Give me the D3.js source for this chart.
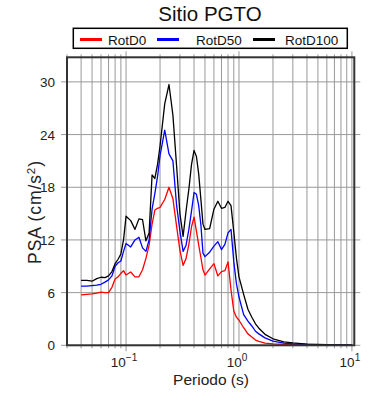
<!DOCTYPE html>
<html>
<head>
<meta charset="utf-8">
<script src="https://cdn.jsdelivr.net/npm/d3@7"></script>
<style>
  body { margin: 0; background: #fff; }
  svg { font-family: "Liberation Sans", Arial, Helvetica, sans-serif; }
</style>
</head>
<body>
<script>
// periods (s) and spectral accelerations (cm/s2)
var periods = [0.04, 0.045, 0.05, 0.055, 0.06, 0.065, 0.07, 0.075, 0.08, 0.085, 0.09, 0.095,
  0.1, 0.11, 0.12, 0.13, 0.14, 0.15, 0.16, 0.17, 0.18, 0.19, 0.2, 0.22, 0.24, 0.26, 0.28, 0.3,
  0.32, 0.34, 0.36, 0.38, 0.4, 0.42, 0.44, 0.46, 0.48, 0.5, 0.55, 0.6, 0.65, 0.7, 0.75, 0.8,
  0.85, 0.9, 0.95, 1.0, 1.1, 1.2, 1.3, 1.4, 1.5, 1.7, 2.0, 2.5, 3.0, 4.0, 5.0, 6.0, 7.5, 10];

var rotD0 = [5.75, 5.8, 5.85, 5.95, 6.05, 6.0, 6.0, 6.6, 7.55, 7.8, 8.2, 8.5,
  8.0, 8.35, 7.8, 7.8, 8.6, 9.9, 11.4, 13.8, 15.4, 15.6, 15.7, 16.6, 18.0, 16.7, 13.6, 10.8,
  9.1, 9.9, 11.5, 13.5, 14.6, 13.0, 11.4, 10.0, 8.6, 8.0, 8.7, 9.3, 7.9, 8.4, 8.5, 9.5,
  6.3, 3.9, 3.2, 2.85, 2.0, 1.3, 0.95, 0.6, 0.45, 0.25, 0.16, 0.1, 0.07, 0.05, 0.04, 0.03, 0.03, 0.02];

var rotD50 = [6.75, 6.75, 6.8, 6.85, 6.95, 7.2, 7.45, 7.9, 9.0, 9.4, 9.6, 10.7,
  11.6, 11.2, 12.0, 12.3, 11.1, 10.7, 12.0, 15.5, 17.3, 19.2, 21.6, 24.5, 21.8, 21.0, 16.0, 13.0,
  10.7, 11.4, 13.2, 15.3, 17.4, 17.2, 15.9, 13.7, 10.5, 10.1, 10.6, 11.3, 11.8, 10.9, 11.5, 12.8,
  13.2, 9.5, 7.0, 5.5, 3.5, 2.75, 2.2, 1.6, 1.3, 0.85, 0.48, 0.25, 0.17, 0.1, 0.07, 0.05, 0.04, 0.03];

var rotD100 = [7.4, 7.4, 7.3, 7.6, 7.75, 7.7, 7.9, 8.4, 9.3, 9.8, 10.4, 12.0,
  14.7, 14.2, 13.2, 14.4, 14.3, 11.9, 12.8, 19.4, 19.0, 20.6, 22.7, 27.5, 29.7, 26.2, 20.5, 15.0,
  12.4, 15.3, 17.8, 20.6, 22.2, 21.5, 19.5, 16.6, 13.8, 13.2, 13.3, 15.5, 16.4, 15.6, 15.7, 16.4,
  15.9, 12.9, 9.9, 7.8, 5.8, 4.1, 3.2, 2.45, 1.95, 1.25, 0.74, 0.4, 0.28, 0.14, 0.09, 0.07, 0.05, 0.03];

var seriesNames = ["RotD0", "RotD50", "RotD100"];
var seriesColors = ["#ff0000", "#0000ff", "#000000"];
var yTicks = [0, 6, 12, 18, 24, 30];
var xLabels = [[0.1, "\u22121"], [1, "0"], [10, "1"]];

var W = 390, H = 400;
var margin = {top: 57.3, right: 35.7, bottom: 54.7, left: 67};
var width = W - margin.left - margin.right;
var height = H - margin.top - margin.bottom;

var svg = d3.select("body").append("svg").attr("width", W).attr("height", H);

var x = d3.scaleLog().domain([0.03, 10.5]).range([0, width]);
var y = d3.scaleLinear().domain([0, 32.8]).range([height, 0]);

var g = svg.append("g").attr("transform", "translate(" + margin.left + "," + margin.top + ")");

// vertical grid (every log tick) with small ticks outside top and bottom
var xt = x.ticks().filter(function(d) { return d <= 10.0001; });
function isMajor(d) { return Math.abs(Math.log10(d) - Math.round(Math.log10(d))) < 1e-6; }
g.selectAll(".vgrid").data(xt).enter().append("line")
  .attr("x1", function(d) { return x(d); }).attr("x2", function(d) { return x(d); })
  .attr("y1", function(d) { return isMajor(d) ? -6 : -3; })
  .attr("y2", function(d) { return height + (isMajor(d) ? 6 : 3); })
  .attr("stroke", "#999").attr("stroke-width", 1);

// horizontal grid with ticks outside left and right
g.selectAll(".hgrid").data(yTicks).enter().append("line")
  .attr("x1", -6).attr("x2", width + 6)
  .attr("y1", function(d) { return y(d); }).attr("y2", function(d) { return y(d); })
  .attr("stroke", "#999").attr("stroke-width", 1);

// y tick labels
g.selectAll(".ylab").data(yTicks).enter().append("text")
  .attr("x", -12).attr("y", function(d) { return y(d) + 5; })
  .attr("text-anchor", "end").attr("font-size", 13.5).attr("fill", "#222")
  .text(function(d) { return d; });

// x tick labels 10^n
var xl = g.selectAll(".xlab").data(xLabels).enter().append("text")
  .attr("x", function(d) { return x(d[0]) - 2; }).attr("y", height + 22)
  .attr("text-anchor", "middle").attr("font-size", 13.5).attr("fill", "#222");
xl.append("tspan").text("10");
xl.append("tspan").attr("dy", -6).attr("font-size", 10).text(function(d) { return d[1]; });

// data lines
var allSeries = [rotD0, rotD50, rotD100];
var line = d3.line()
  .x(function(d, i) { return x(periods[i]); })
  .y(function(d) { return y(d); });
g.selectAll(".series").data(allSeries).enter().append("path")
  .attr("d", line)
  .attr("fill", "none")
  .attr("stroke", function(d, i) { return seriesColors[i]; })
  .attr("stroke-width", 1.3)
  .attr("stroke-linejoin", "round");

// frame
g.append("rect").attr("x", 0).attr("y", 0).attr("width", width).attr("height", height)
  .attr("fill", "none").attr("stroke", "#333").attr("stroke-width", 2);

// axis titles
svg.append("text").attr("x", 211).attr("y", 385).attr("text-anchor", "middle")
  .attr("font-size", 15.5).attr("fill", "#222").text("Periodo (s)");

var yt = svg.append("text").attr("transform", "translate(41,212) rotate(-90)")
  .attr("text-anchor", "middle").attr("font-size", 17.5).attr("letter-spacing", 0.9)
  .attr("fill", "#222");
yt.append("tspan").text("PSA (cm/s");
yt.append("tspan").attr("dy", -6).attr("font-size", 11.5).text("2");
yt.append("tspan").attr("dy", 6).text(")");

// title
svg.append("text").attr("x", 210).attr("y", 21).attr("text-anchor", "middle")
  .attr("font-size", 20.5).attr("fill", "#111").text("Sitio PGTO");

// legend
var lg = svg.append("g");
lg.append("rect").attr("x", 73.3).attr("y", 28.3).attr("width", 274).attr("height", 20)
  .attr("fill", "#fff").attr("stroke", "#000").attr("stroke-width", 1.5);
var legX = [80, 157, 253];
var item = lg.selectAll(".item").data(seriesNames).enter().append("g");
item.append("line")
  .attr("x1", function(d, i) { return legX[i]; }).attr("x2", function(d, i) { return legX[i] + 22; })
  .attr("y1", 39.5).attr("y2", 39.5)
  .attr("stroke", function(d, i) { return seriesColors[i]; }).attr("stroke-width", 3);
item.append("text")
  .attr("x", function(d, i) { return legX[i] + [28, 39, 32][i]; }).attr("y", 44.5)
  .attr("font-size", 13.5).attr("fill", "#111")
  .text(function(d) { return d; });
</script>
</body>
</html>
